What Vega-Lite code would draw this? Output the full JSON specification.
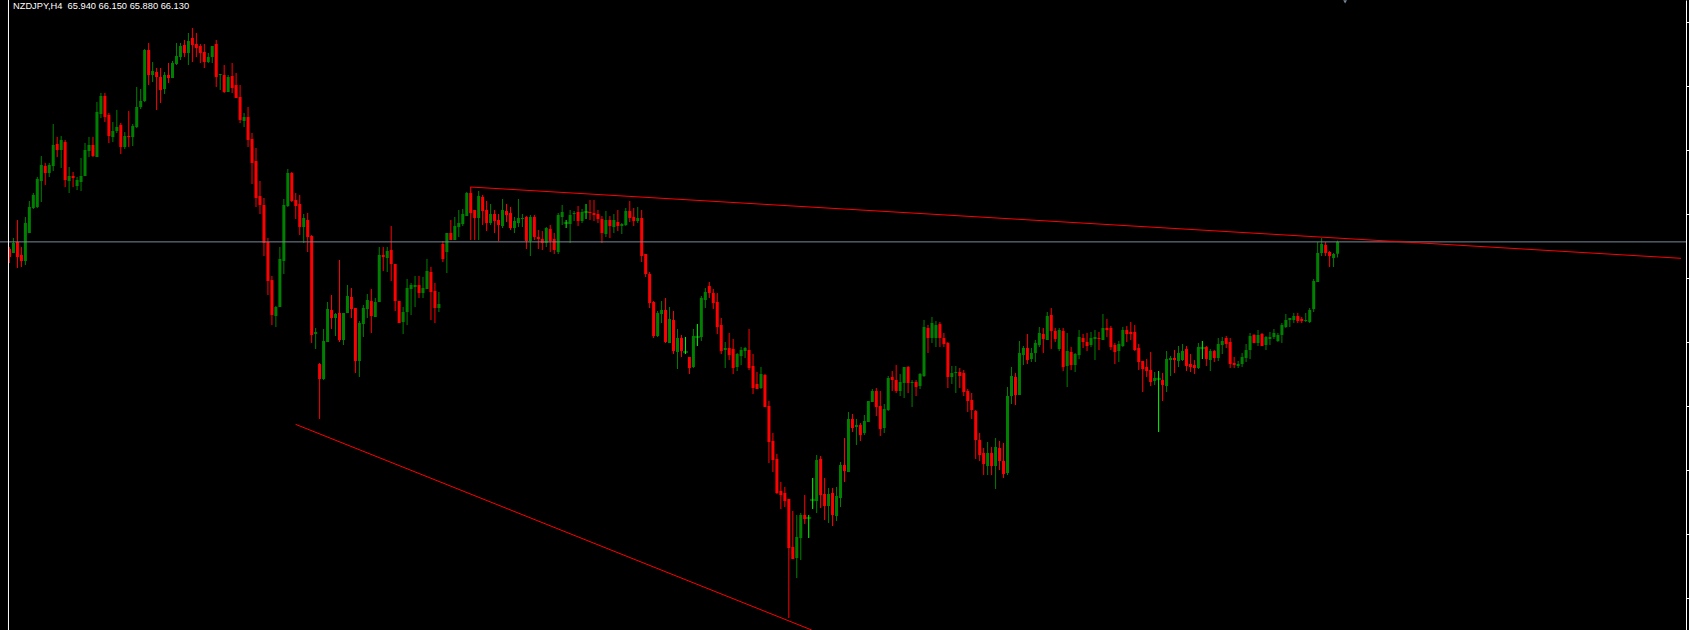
{
"$schema":"https://vega.github.io/schema/vega-lite/v6.json",
"width":1686,"height":630,
"autosize":{"type":"none"},
"padding":{"left":0,"top":0,"right":3,"bottom":0},
"background":"#000000",
"config":{"view":{"stroke":null}},
"datasets":{
"k":[
{"i":0,"o":66.016,"h":66.048,"l":65.792,"c":65.888},
{"i":1,"o":65.952,"h":66.192,"l":65.952,"c":66.112},
{"i":2,"o":66.128,"h":66.48,"l":65.712,"c":65.888},
{"i":3,"o":65.92,"h":66.048,"l":65.728,"c":65.824},
{"i":4,"o":65.824,"h":66.528,"l":65.76,"c":66.432},
{"i":5,"o":66.272,"h":66.784,"l":66.272,"c":66.688},
{"i":6,"o":66.672,"h":66.912,"l":66.656,"c":66.88},
{"i":7,"o":66.688,"h":67.168,"l":66.672,"c":67.136},
{"i":8,"o":67.104,"h":67.504,"l":66.768,"c":67.36},
{"i":9,"o":67.344,"h":67.392,"l":67.04,"c":67.232},
{"i":10,"o":67.232,"h":67.392,"l":67.168,"c":67.36},
{"i":11,"o":67.344,"h":68.016,"l":67.264,"c":67.68},
{"i":12,"o":67.696,"h":67.808,"l":67.488,"c":67.6},
{"i":13,"o":67.6,"h":67.824,"l":67.312,"c":67.76},
{"i":14,"o":67.728,"h":67.76,"l":67.008,"c":67.12},
{"i":15,"o":67.104,"h":67.328,"l":66.912,"c":67.184},
{"i":16,"o":67.184,"h":67.248,"l":67.008,"c":67.152},
{"i":17,"o":67.024,"h":67.168,"l":66.96,"c":67.12},
{"i":18,"o":67.088,"h":67.472,"l":66.944,"c":67.184},
{"i":19,"o":67.184,"h":67.712,"l":67.184,"c":67.6},
{"i":20,"o":67.584,"h":67.808,"l":67.488,"c":67.68},
{"i":21,"o":67.68,"h":67.808,"l":67.488,"c":67.504},
{"i":22,"o":67.488,"h":68.368,"l":67.488,"c":68.208},
{"i":23,"o":68.176,"h":68.512,"l":68.112,"c":68.464},
{"i":24,"o":68.464,"h":68.512,"l":68.048,"c":68.128},
{"i":25,"o":68.16,"h":68.192,"l":67.712,"c":67.824},
{"i":26,"o":67.808,"h":68.048,"l":67.728,"c":67.904},
{"i":27,"o":67.904,"h":68.24,"l":67.872,"c":67.968},
{"i":28,"o":68.0,"h":68.032,"l":67.536,"c":67.648},
{"i":29,"o":67.648,"h":67.888,"l":67.616,"c":67.824},
{"i":30,"o":67.824,"h":68.224,"l":67.648,"c":67.808},
{"i":31,"o":67.808,"h":68.016,"l":67.664,"c":67.984},
{"i":32,"o":67.968,"h":68.608,"l":67.952,"c":68.288},
{"i":33,"o":68.288,"h":68.576,"l":68.256,"c":68.384},
{"i":34,"o":68.384,"h":69.216,"l":68.368,"c":69.2},
{"i":35,"o":69.2,"h":69.312,"l":68.64,"c":68.8},
{"i":36,"o":68.8,"h":69.008,"l":68.688,"c":68.864},
{"i":37,"o":68.848,"h":68.912,"l":68.24,"c":68.768},
{"i":38,"o":68.768,"h":68.912,"l":68.352,"c":68.56},
{"i":39,"o":68.576,"h":68.848,"l":68.496,"c":68.8},
{"i":40,"o":68.8,"h":68.992,"l":68.672,"c":68.752},
{"i":41,"o":68.752,"h":69.024,"l":68.752,"c":68.992},
{"i":42,"o":68.976,"h":69.312,"l":68.96,"c":69.104},
{"i":43,"o":69.088,"h":69.312,"l":69.04,"c":69.264},
{"i":44,"o":69.28,"h":69.36,"l":69.088,"c":69.152},
{"i":45,"o":69.152,"h":69.472,"l":68.96,"c":69.344},
{"i":46,"o":69.392,"h":69.552,"l":69.008,"c":69.28},
{"i":47,"o":69.296,"h":69.472,"l":69.088,"c":69.232},
{"i":48,"o":69.264,"h":69.296,"l":68.992,"c":69.152},
{"i":49,"o":69.168,"h":69.296,"l":68.912,"c":69.008},
{"i":50,"o":69.008,"h":69.152,"l":68.992,"c":69.088},
{"i":51,"o":69.088,"h":69.264,"l":68.992,"c":69.264},
{"i":52,"o":69.296,"h":69.36,"l":68.608,"c":68.768},
{"i":53,"o":68.8,"h":68.816,"l":68.56,"c":68.816},
{"i":54,"o":68.8,"h":68.96,"l":68.512,"c":68.528},
{"i":55,"o":68.528,"h":68.8,"l":68.528,"c":68.768},
{"i":56,"o":68.784,"h":68.992,"l":68.512,"c":68.592},
{"i":57,"o":68.64,"h":68.832,"l":68.432,"c":68.432},
{"i":58,"o":68.448,"h":68.64,"l":68.032,"c":68.08},
{"i":59,"o":68.064,"h":68.192,"l":67.968,"c":68.128},
{"i":60,"o":68.128,"h":68.288,"l":67.648,"c":67.76},
{"i":61,"o":67.776,"h":67.872,"l":67.056,"c":67.392},
{"i":62,"o":67.424,"h":67.632,"l":66.688,"c":66.832},
{"i":63,"o":66.864,"h":67.104,"l":66.576,"c":66.72},
{"i":64,"o":66.72,"h":66.832,"l":65.904,"c":66.112},
{"i":65,"o":66.128,"h":66.192,"l":65.28,"c":65.504},
{"i":66,"o":65.52,"h":65.584,"l":64.8,"c":64.96},
{"i":67,"o":64.944,"h":65.104,"l":64.768,"c":65.088},
{"i":68,"o":65.088,"h":66.048,"l":65.088,"c":65.856},
{"i":69,"o":65.824,"h":66.816,"l":65.616,"c":66.72},
{"i":70,"o":66.704,"h":67.296,"l":66.688,"c":67.232},
{"i":71,"o":67.232,"h":67.248,"l":66.768,"c":66.784},
{"i":72,"o":66.8,"h":66.912,"l":66.496,"c":66.704},
{"i":73,"o":66.736,"h":66.88,"l":66.24,"c":66.368},
{"i":74,"o":66.368,"h":66.576,"l":66.112,"c":66.512},
{"i":75,"o":66.48,"h":66.592,"l":65.968,"c":66.208},
{"i":76,"o":66.224,"h":66.24,"l":64.512,"c":64.64},
{"i":77,"o":64.656,"h":64.752,"l":64.416,"c":64.688},
{"i":78,"o":64.176,"h":64.192,"l":63.296,"c":63.936},
{"i":79,"o":63.936,"h":64.736,"l":63.92,"c":64.544},
{"i":80,"o":64.528,"h":65.168,"l":64.528,"c":65.056},
{"i":81,"o":65.04,"h":65.28,"l":64.736,"c":64.912},
{"i":82,"o":64.912,"h":64.992,"l":64.624,"c":64.976},
{"i":83,"o":64.992,"h":65.84,"l":64.528,"c":64.56},
{"i":84,"o":64.56,"h":64.992,"l":64.48,"c":64.992},
{"i":85,"o":64.992,"h":65.44,"l":64.992,"c":65.264},
{"i":86,"o":65.248,"h":65.392,"l":64.912,"c":65.056},
{"i":87,"o":65.072,"h":65.072,"l":64.032,"c":64.224},
{"i":88,"o":64.224,"h":64.864,"l":63.968,"c":64.832},
{"i":89,"o":64.816,"h":65.12,"l":64.608,"c":65.072},
{"i":90,"o":65.056,"h":65.296,"l":64.912,"c":65.2},
{"i":91,"o":65.184,"h":65.376,"l":64.672,"c":64.944},
{"i":92,"o":64.928,"h":65.232,"l":64.928,"c":65.168},
{"i":93,"o":65.168,"h":66.048,"l":65.168,"c":65.92},
{"i":94,"o":65.92,"h":66.048,"l":65.664,"c":65.888},
{"i":95,"o":65.872,"h":66.048,"l":65.648,"c":65.984},
{"i":96,"o":66.0,"h":66.384,"l":65.504,"c":65.776},
{"i":97,"o":65.776,"h":65.776,"l":65.024,"c":65.184},
{"i":98,"o":65.184,"h":65.184,"l":64.832,"c":64.832},
{"i":99,"o":64.848,"h":65.088,"l":64.656,"c":65.008},
{"i":100,"o":65.008,"h":65.536,"l":64.8,"c":65.392},
{"i":101,"o":65.376,"h":65.472,"l":64.96,"c":65.44},
{"i":102,"o":65.408,"h":65.584,"l":65.088,"c":65.44},
{"i":103,"o":65.44,"h":65.584,"l":65.232,"c":65.312},
{"i":104,"o":65.312,"h":65.568,"l":65.232,"c":65.392},
{"i":105,"o":65.376,"h":65.856,"l":65.376,"c":65.664},
{"i":106,"o":65.648,"h":65.728,"l":64.88,"c":65.328},
{"i":107,"o":65.344,"h":65.472,"l":64.832,"c":65.072},
{"i":108,"o":65.072,"h":65.328,"l":65.008,"c":65.136},
{"i":109,"o":66.096,"h":66.144,"l":65.808,"c":65.856},
{"i":110,"o":65.968,"h":66.272,"l":65.632,"c":66.272},
{"i":111,"o":66.272,"h":66.48,"l":66.16,"c":66.16},
{"i":112,"o":66.16,"h":66.528,"l":66.16,"c":66.384},
{"i":113,"o":66.368,"h":66.64,"l":66.208,"c":66.432},
{"i":114,"o":66.416,"h":66.656,"l":66.384,"c":66.576},
{"i":115,"o":66.544,"h":66.928,"l":66.544,"c":66.912},
{"i":116,"o":66.912,"h":67.008,"l":66.16,"c":66.592},
{"i":117,"o":66.64,"h":66.64,"l":66.16,"c":66.512},
{"i":118,"o":66.512,"h":66.944,"l":66.16,"c":66.864},
{"i":119,"o":66.848,"h":66.88,"l":66.4,"c":66.624},
{"i":120,"o":66.64,"h":66.784,"l":66.304,"c":66.432},
{"i":121,"o":66.432,"h":66.736,"l":66.4,"c":66.576},
{"i":122,"o":66.576,"h":66.64,"l":66.272,"c":66.464},
{"i":123,"o":66.48,"h":66.576,"l":66.144,"c":66.4},
{"i":124,"o":66.384,"h":66.816,"l":66.352,"c":66.64},
{"i":125,"o":66.624,"h":66.736,"l":66.448,"c":66.56},
{"i":126,"o":66.592,"h":66.688,"l":66.32,"c":66.352},
{"i":127,"o":66.352,"h":66.528,"l":66.272,"c":66.464},
{"i":128,"o":66.432,"h":66.816,"l":66.368,"c":66.512},
{"i":129,"o":66.496,"h":66.576,"l":66.368,"c":66.512},
{"i":130,"o":66.528,"h":66.544,"l":66.016,"c":66.144},
{"i":131,"o":66.144,"h":66.56,"l":65.904,"c":66.528},
{"i":132,"o":66.528,"h":66.56,"l":66.16,"c":66.208},
{"i":133,"o":66.208,"h":66.32,"l":66.016,"c":66.176},
{"i":134,"o":66.176,"h":66.304,"l":66.0,"c":66.112},
{"i":135,"o":66.112,"h":66.368,"l":66.048,"c":66.352},
{"i":136,"o":66.336,"h":66.4,"l":65.968,"c":66.144},
{"i":137,"o":66.176,"h":66.272,"l":65.936,"c":66.0},
{"i":138,"o":65.968,"h":66.592,"l":65.936,"c":66.56},
{"i":139,"o":66.528,"h":66.72,"l":66.4,"c":66.608},
{"i":140,"o":66.432,"h":66.48,"l":66.352,"c":66.432},
{"i":141,"o":66.416,"h":66.64,"l":66.112,"c":66.56},
{"i":142,"o":66.576,"h":66.624,"l":66.464,"c":66.592},
{"i":143,"o":66.608,"h":66.704,"l":66.384,"c":66.464},
{"i":144,"o":66.464,"h":66.656,"l":66.432,"c":66.608},
{"i":145,"o":66.608,"h":66.736,"l":66.496,"c":66.608},
{"i":146,"o":66.608,"h":66.8,"l":66.48,"c":66.592},
{"i":147,"o":66.592,"h":66.8,"l":66.464,"c":66.56},
{"i":148,"o":66.576,"h":66.64,"l":66.432,"c":66.496},
{"i":149,"o":66.496,"h":66.544,"l":66.112,"c":66.272},
{"i":150,"o":66.256,"h":66.624,"l":66.208,"c":66.48},
{"i":151,"o":66.48,"h":66.544,"l":66.192,"c":66.384},
{"i":152,"o":66.368,"h":66.576,"l":66.272,"c":66.48},
{"i":153,"o":66.448,"h":66.64,"l":66.304,"c":66.384},
{"i":154,"o":66.384,"h":66.432,"l":66.256,"c":66.416},
{"i":155,"o":66.4,"h":66.672,"l":66.384,"c":66.624},
{"i":156,"o":66.624,"h":66.784,"l":66.448,"c":66.512},
{"i":157,"o":66.528,"h":66.672,"l":66.384,"c":66.464},
{"i":158,"o":66.464,"h":66.688,"l":66.432,"c":66.512},
{"i":159,"o":66.512,"h":66.64,"l":65.808,"c":65.904},
{"i":160,"o":65.936,"h":65.936,"l":65.568,"c":65.616},
{"i":161,"o":65.616,"h":65.648,"l":65.072,"c":65.152},
{"i":162,"o":65.168,"h":65.184,"l":64.592,"c":64.624},
{"i":163,"o":64.624,"h":65.024,"l":64.608,"c":64.992},
{"i":164,"o":64.976,"h":65.184,"l":64.832,"c":65.04},
{"i":165,"o":65.04,"h":65.232,"l":64.512,"c":64.528},
{"i":166,"o":64.512,"h":65.088,"l":64.512,"c":64.896},
{"i":167,"o":64.88,"h":65.024,"l":64.336,"c":64.384},
{"i":168,"o":64.368,"h":64.736,"l":64.096,"c":64.592},
{"i":169,"o":64.592,"h":64.64,"l":64.288,"c":64.384},
{"i":170,"o":64.368,"h":64.608,"l":64.336,"c":64.368},
{"i":171,"o":64.288,"h":64.288,"l":64.016,"c":64.112},
{"i":172,"o":64.128,"h":64.736,"l":64.112,"c":64.624},
{"i":173,"o":64.608,"h":64.816,"l":64.464,"c":64.608},
{"i":174,"o":64.608,"h":65.264,"l":64.544,"c":65.232},
{"i":175,"o":65.2,"h":65.392,"l":65.072,"c":65.328},
{"i":176,"o":65.424,"h":65.488,"l":65.232,"c":65.312},
{"i":177,"o":65.312,"h":65.376,"l":65.056,"c":65.152},
{"i":178,"o":65.168,"h":65.312,"l":64.656,"c":64.768},
{"i":179,"o":64.8,"h":64.912,"l":64.336,"c":64.384},
{"i":180,"o":64.4,"h":64.528,"l":64.112,"c":64.432},
{"i":181,"o":64.432,"h":64.672,"l":64.24,"c":64.32},
{"i":182,"o":64.416,"h":64.576,"l":64.016,"c":64.112},
{"i":183,"o":64.128,"h":64.352,"l":64.064,"c":64.336},
{"i":184,"o":64.304,"h":64.448,"l":64.16,"c":64.4},
{"i":185,"o":64.384,"h":64.448,"l":64.272,"c":64.432},
{"i":186,"o":64.4,"h":64.736,"l":64.08,"c":64.112},
{"i":187,"o":64.144,"h":64.336,"l":63.696,"c":63.792},
{"i":188,"o":63.856,"h":64.048,"l":63.776,"c":63.776},
{"i":189,"o":63.792,"h":64.128,"l":63.776,"c":64.016},
{"i":190,"o":64.0,"h":64.016,"l":63.488,"c":63.488},
{"i":191,"o":63.504,"h":63.584,"l":62.592,"c":62.928},
{"i":192,"o":62.944,"h":63.072,"l":62.448,"c":62.64},
{"i":193,"o":62.656,"h":62.736,"l":62.096,"c":62.112},
{"i":194,"o":62.144,"h":62.288,"l":61.856,"c":62.08},
{"i":195,"o":62.112,"h":62.208,"l":61.888,"c":61.984},
{"i":196,"o":62.016,"h":62.016,"l":60.112,"c":61.232},
{"i":197,"o":61.248,"h":61.824,"l":61.056,"c":61.056},
{"i":198,"o":61.072,"h":61.76,"l":60.752,"c":61.408},
{"i":199,"o":61.392,"h":61.792,"l":61.04,"c":61.76},
{"i":200,"o":61.76,"h":62.08,"l":61.616,"c":61.696},
{"i":201,"o":61.712,"h":61.76,"l":61.392,"c":61.712},
{"i":202,"o":62.0,"h":62.352,"l":61.856,"c":62.0},
{"i":203,"o":61.984,"h":62.72,"l":61.792,"c":62.64},
{"i":204,"o":62.656,"h":62.704,"l":61.872,"c":62.08},
{"i":205,"o":62.096,"h":62.352,"l":61.68,"c":61.904},
{"i":206,"o":61.904,"h":62.192,"l":61.632,"c":62.096},
{"i":207,"o":62.112,"h":62.192,"l":61.584,"c":61.76},
{"i":208,"o":61.744,"h":62.208,"l":61.664,"c":62.064},
{"i":209,"o":62.032,"h":62.608,"l":61.888,"c":62.56},
{"i":210,"o":62.56,"h":62.992,"l":62.288,"c":62.464},
{"i":211,"o":62.448,"h":63.408,"l":62.448,"c":63.296},
{"i":212,"o":63.296,"h":63.376,"l":63.088,"c":63.152},
{"i":213,"o":63.168,"h":63.296,"l":62.88,"c":63.2},
{"i":214,"o":63.2,"h":63.232,"l":62.944,"c":63.04},
{"i":215,"o":63.072,"h":63.36,"l":63.04,"c":63.264},
{"i":216,"o":63.248,"h":63.584,"l":63.248,"c":63.584},
{"i":217,"o":63.568,"h":63.776,"l":63.568,"c":63.744},
{"i":218,"o":63.744,"h":63.792,"l":63.344,"c":63.488},
{"i":219,"o":63.504,"h":63.744,"l":63.024,"c":63.136},
{"i":220,"o":63.152,"h":63.536,"l":63.072,"c":63.456},
{"i":221,"o":63.44,"h":63.984,"l":63.424,"c":63.952},
{"i":222,"o":63.968,"h":64.064,"l":63.744,"c":63.92},
{"i":223,"o":63.92,"h":64.16,"l":63.712,"c":63.744},
{"i":224,"o":63.744,"h":64.016,"l":63.664,"c":63.888},
{"i":225,"o":63.872,"h":64.128,"l":63.632,"c":64.128},
{"i":226,"o":64.128,"h":64.144,"l":63.712,"c":63.872},
{"i":227,"o":63.872,"h":63.92,"l":63.488,"c":63.888},
{"i":228,"o":63.888,"h":63.92,"l":63.664,"c":63.808},
{"i":229,"o":63.824,"h":64.032,"l":63.776,"c":64.016},
{"i":230,"o":63.984,"h":64.88,"l":63.968,"c":64.768},
{"i":231,"o":64.752,"h":64.8,"l":64.352,"c":64.592},
{"i":232,"o":64.592,"h":64.928,"l":64.512,"c":64.832},
{"i":233,"o":64.592,"h":64.864,"l":64.448,"c":64.8},
{"i":234,"o":64.816,"h":64.848,"l":64.448,"c":64.592},
{"i":235,"o":64.592,"h":64.672,"l":64.448,"c":64.496},
{"i":236,"o":64.512,"h":64.528,"l":63.792,"c":63.968},
{"i":237,"o":63.968,"h":64.144,"l":63.856,"c":64.032},
{"i":238,"o":64.032,"h":64.144,"l":63.712,"c":64.048},
{"i":239,"o":64.048,"h":64.112,"l":63.792,"c":63.984},
{"i":240,"o":64.032,"h":64.08,"l":63.664,"c":63.728},
{"i":241,"o":63.744,"h":63.776,"l":63.408,"c":63.584},
{"i":242,"o":63.6,"h":63.712,"l":63.296,"c":63.44},
{"i":243,"o":63.424,"h":63.44,"l":62.656,"c":62.96},
{"i":244,"o":62.96,"h":63.072,"l":62.624,"c":62.72},
{"i":245,"o":62.752,"h":62.832,"l":62.4,"c":62.576},
{"i":246,"o":62.544,"h":62.928,"l":62.4,"c":62.752},
{"i":247,"o":62.752,"h":62.848,"l":62.4,"c":62.544},
{"i":248,"o":62.544,"h":62.992,"l":62.176,"c":62.848},
{"i":249,"o":62.832,"h":62.944,"l":62.48,"c":62.624},
{"i":250,"o":62.624,"h":62.912,"l":62.352,"c":62.416},
{"i":251,"o":62.432,"h":63.808,"l":62.4,"c":63.664},
{"i":252,"o":63.664,"h":64.128,"l":63.536,"c":63.984},
{"i":253,"o":63.968,"h":64.032,"l":63.52,"c":63.68},
{"i":254,"o":63.68,"h":64.544,"l":63.68,"c":64.352},
{"i":255,"o":64.32,"h":64.464,"l":64.16,"c":64.432},
{"i":256,"o":64.432,"h":64.656,"l":64.176,"c":64.24},
{"i":257,"o":64.256,"h":64.432,"l":64.208,"c":64.352},
{"i":258,"o":64.352,"h":64.56,"l":64.208,"c":64.512},
{"i":259,"o":64.48,"h":64.768,"l":64.448,"c":64.672},
{"i":260,"o":64.656,"h":64.752,"l":64.352,"c":64.576},
{"i":261,"o":64.56,"h":65.008,"l":64.56,"c":64.944},
{"i":262,"o":64.96,"h":65.072,"l":64.416,"c":64.704},
{"i":263,"o":64.704,"h":64.752,"l":64.528,"c":64.576},
{"i":264,"o":64.416,"h":64.752,"l":64.384,"c":64.72},
{"i":265,"o":64.704,"h":64.752,"l":64.064,"c":64.128},
{"i":266,"o":64.144,"h":64.672,"l":63.808,"c":64.384},
{"i":267,"o":64.368,"h":64.448,"l":64.08,"c":64.16},
{"i":268,"o":64.16,"h":64.352,"l":64.048,"c":64.336},
{"i":269,"o":64.32,"h":64.72,"l":64.256,"c":64.608},
{"i":270,"o":64.592,"h":64.656,"l":64.432,"c":64.528},
{"i":271,"o":64.528,"h":64.672,"l":64.384,"c":64.464},
{"i":272,"o":64.48,"h":64.688,"l":64.448,"c":64.592},
{"i":273,"o":64.576,"h":64.72,"l":64.24,"c":64.608},
{"i":274,"o":64.592,"h":64.688,"l":64.4,"c":64.576},
{"i":275,"o":64.56,"h":64.976,"l":64.56,"c":64.752},
{"i":276,"o":64.752,"h":64.896,"l":64.608,"c":64.72},
{"i":277,"o":64.752,"h":64.784,"l":64.4,"c":64.448},
{"i":278,"o":64.48,"h":64.512,"l":64.176,"c":64.368},
{"i":279,"o":64.384,"h":64.544,"l":64.208,"c":64.496},
{"i":280,"o":64.464,"h":64.768,"l":64.448,"c":64.72},
{"i":281,"o":64.72,"h":64.784,"l":64.528,"c":64.656},
{"i":282,"o":64.688,"h":64.848,"l":64.56,"c":64.656},
{"i":283,"o":64.688,"h":64.8,"l":64.384,"c":64.4},
{"i":284,"o":64.432,"h":64.496,"l":64.08,"c":64.208},
{"i":285,"o":64.224,"h":64.224,"l":63.728,"c":64.096},
{"i":286,"o":64.128,"h":64.256,"l":63.968,"c":64.064},
{"i":287,"o":64.08,"h":64.368,"l":63.824,"c":63.888},
{"i":288,"o":63.904,"h":64.048,"l":63.84,"c":63.952},
{"i":289,"o":63.936,"h":64.064,"l":63.088,"c":63.936},
{"i":290,"o":63.92,"h":64.032,"l":63.584,"c":63.84},
{"i":291,"o":63.824,"h":64.384,"l":63.728,"c":64.256},
{"i":292,"o":64.24,"h":64.304,"l":63.984,"c":64.272},
{"i":293,"o":64.272,"h":64.4,"l":64.032,"c":64.24},
{"i":294,"o":64.224,"h":64.464,"l":64.128,"c":64.352},
{"i":295,"o":64.24,"h":64.496,"l":64.224,"c":64.384},
{"i":296,"o":64.416,"h":64.464,"l":64.064,"c":64.144},
{"i":297,"o":64.176,"h":64.336,"l":64.048,"c":64.128},
{"i":298,"o":64.16,"h":64.24,"l":64.016,"c":64.112},
{"i":299,"o":64.112,"h":64.512,"l":64.096,"c":64.448},
{"i":300,"o":64.432,"h":64.544,"l":64.256,"c":64.432},
{"i":301,"o":64.448,"h":64.464,"l":64.144,"c":64.256},
{"i":302,"o":64.24,"h":64.416,"l":64.064,"c":64.384},
{"i":303,"o":64.384,"h":64.4,"l":64.208,"c":64.272},
{"i":304,"o":64.272,"h":64.592,"l":64.224,"c":64.496},
{"i":305,"o":64.48,"h":64.608,"l":64.336,"c":64.544},
{"i":306,"o":64.592,"h":64.624,"l":64.432,"c":64.496},
{"i":307,"o":64.528,"h":64.592,"l":64.112,"c":64.176},
{"i":308,"o":64.192,"h":64.288,"l":64.112,"c":64.16},
{"i":309,"o":64.144,"h":64.224,"l":64.112,"c":64.176},
{"i":310,"o":64.176,"h":64.352,"l":64.128,"c":64.288},
{"i":311,"o":64.272,"h":64.496,"l":64.208,"c":64.4},
{"i":312,"o":64.4,"h":64.672,"l":64.256,"c":64.624},
{"i":313,"o":64.64,"h":64.656,"l":64.512,"c":64.512},
{"i":314,"o":64.512,"h":64.72,"l":64.464,"c":64.64},
{"i":315,"o":64.656,"h":64.672,"l":64.464,"c":64.464},
{"i":316,"o":64.48,"h":64.624,"l":64.4,"c":64.608},
{"i":317,"o":64.576,"h":64.688,"l":64.48,"c":64.608},
{"i":318,"o":64.608,"h":64.736,"l":64.576,"c":64.672},
{"i":319,"o":64.544,"h":64.672,"l":64.528,"c":64.64},
{"i":320,"o":64.64,"h":64.832,"l":64.512,"c":64.8},
{"i":321,"o":64.768,"h":64.976,"l":64.752,"c":64.88},
{"i":322,"o":64.88,"h":64.912,"l":64.768,"c":64.912},
{"i":323,"o":64.88,"h":64.992,"l":64.832,"c":64.944},
{"i":324,"o":64.944,"h":64.992,"l":64.832,"c":64.864},
{"i":325,"o":64.896,"h":64.928,"l":64.832,"c":64.864},
{"i":326,"o":64.864,"h":64.992,"l":64.848,"c":64.88},
{"i":327,"o":64.848,"h":65.072,"l":64.832,"c":65.04},
{"i":328,"o":65.056,"h":65.536,"l":65.008,"c":65.504},
{"i":329,"o":65.488,"h":66.128,"l":65.488,"c":65.952},
{"i":330,"o":65.952,"h":66.192,"l":65.904,"c":66.096},
{"i":331,"o":66.08,"h":66.128,"l":65.904,"c":65.952},
{"i":332,"o":65.968,"h":65.984,"l":65.728,"c":65.904},
{"i":333,"o":65.872,"h":65.952,"l":65.728,"c":65.936},
{"i":334,"o":65.94,"h":66.15,"l":65.88,"c":66.13}
],
"tl":[
{"id":"a","i":71.95,"p":63.211},
{"id":"a","i":201.75,"p":59.92},
{"id":"b","i":115.875,"p":67.008},
{"id":"b","i":420.375,"p":65.867}
]
},
"layer":[
{"data":{"name":"k"},
 "mark":{"type":"rule","strokeWidth":1},
 "encoding":{
  "x":{"field":"i","type":"quantitative","scale":{"domain":[-1.125,420.375],"nice":false,"zero":false},"axis":null},
  "y":{"field":"l","type":"quantitative","scale":{"domain":[59.92,70],"nice":false,"zero":false},
       "axis":{"orient":"right","values":[69.643,69.131,68.619,68.107,67.595,67.083,66.571,66.059,65.547,65.035,64.523,64.011,63.499,62.987,62.475,61.963,61.451,60.939,60.427],"labels":false,"ticks":true,"tickColor":"#ffffff","tickSize":3,"tickWidth":1,"domainColor":"#ffffff","domainWidth":1,"grid":false,"title":null}},
  "y2":{"field":"h"},
  "color":{"condition":[{"test":"datum.c > datum.o","value":"#008000"},{"test":"datum.c < datum.o","value":"#ff0000"}],"value":"#00ff00"}
 }},
{"data":{"name":"k"},
 "mark":{"type":"bar","size":3,"orient":"vertical"},
 "encoding":{
  "x":{"field":"i","type":"quantitative"},
  "y":{"field":"o","type":"quantitative"},
  "y2":{"field":"c"},
  "color":{"condition":[{"test":"datum.c > datum.o","value":"#008000"},{"test":"datum.c < datum.o","value":"#ff0000"}],"value":"#00ff00"}
 }},
{"data":{"name":"k"},
 "transform":[{"filter":"datum.o == datum.c"}],
 "mark":{"type":"tick","orient":"horizontal","size":5,"thickness":1,"color":"#00ff00"},
 "encoding":{
  "x":{"field":"i","type":"quantitative"},
  "y":{"field":"c","type":"quantitative"}
 }},
{"data":{"values":[{"p":66.13}]},
 "mark":{"type":"rule","color":"#778899","strokeWidth":1},
 "encoding":{"y":{"field":"p","type":"quantitative"}}},
{"data":{"name":"tl"},
 "mark":{"type":"line","color":"#ff0000","strokeWidth":1,"clip":true},
 "encoding":{
  "x":{"field":"i","type":"quantitative"},
  "y":{"field":"p","type":"quantitative"},
  "detail":{"field":"id"}
 }},
{"data":{"values":[{"i":-0.25}]},
 "mark":{"type":"rule","color":"#ffffff","strokeWidth":1},
 "encoding":{"x":{"field":"i","type":"quantitative"}}},
{"data":{"values":[{"i":335.9,"p":69.97}]},
 "mark":{"type":"point","shape":"triangle-down","filled":true,"color":"#778899","size":14,"opacity":1},
 "encoding":{"x":{"field":"i","type":"quantitative"},"y":{"field":"p","type":"quantitative"}}},
{"data":{"values":[{"i":-1.125,"p":70,"t":"NZDJPY,H4\u00a0 65.940 66.150 65.880 66.130"}]},
 "mark":{"type":"text","align":"left","baseline":"top","dx":8,"dy":2,"color":"#ffffff","font":"Liberation Sans","fontSize":9.3},
 "encoding":{"x":{"field":"i","type":"quantitative"},"y":{"field":"p","type":"quantitative"},"text":{"field":"t"}}}
]
}
